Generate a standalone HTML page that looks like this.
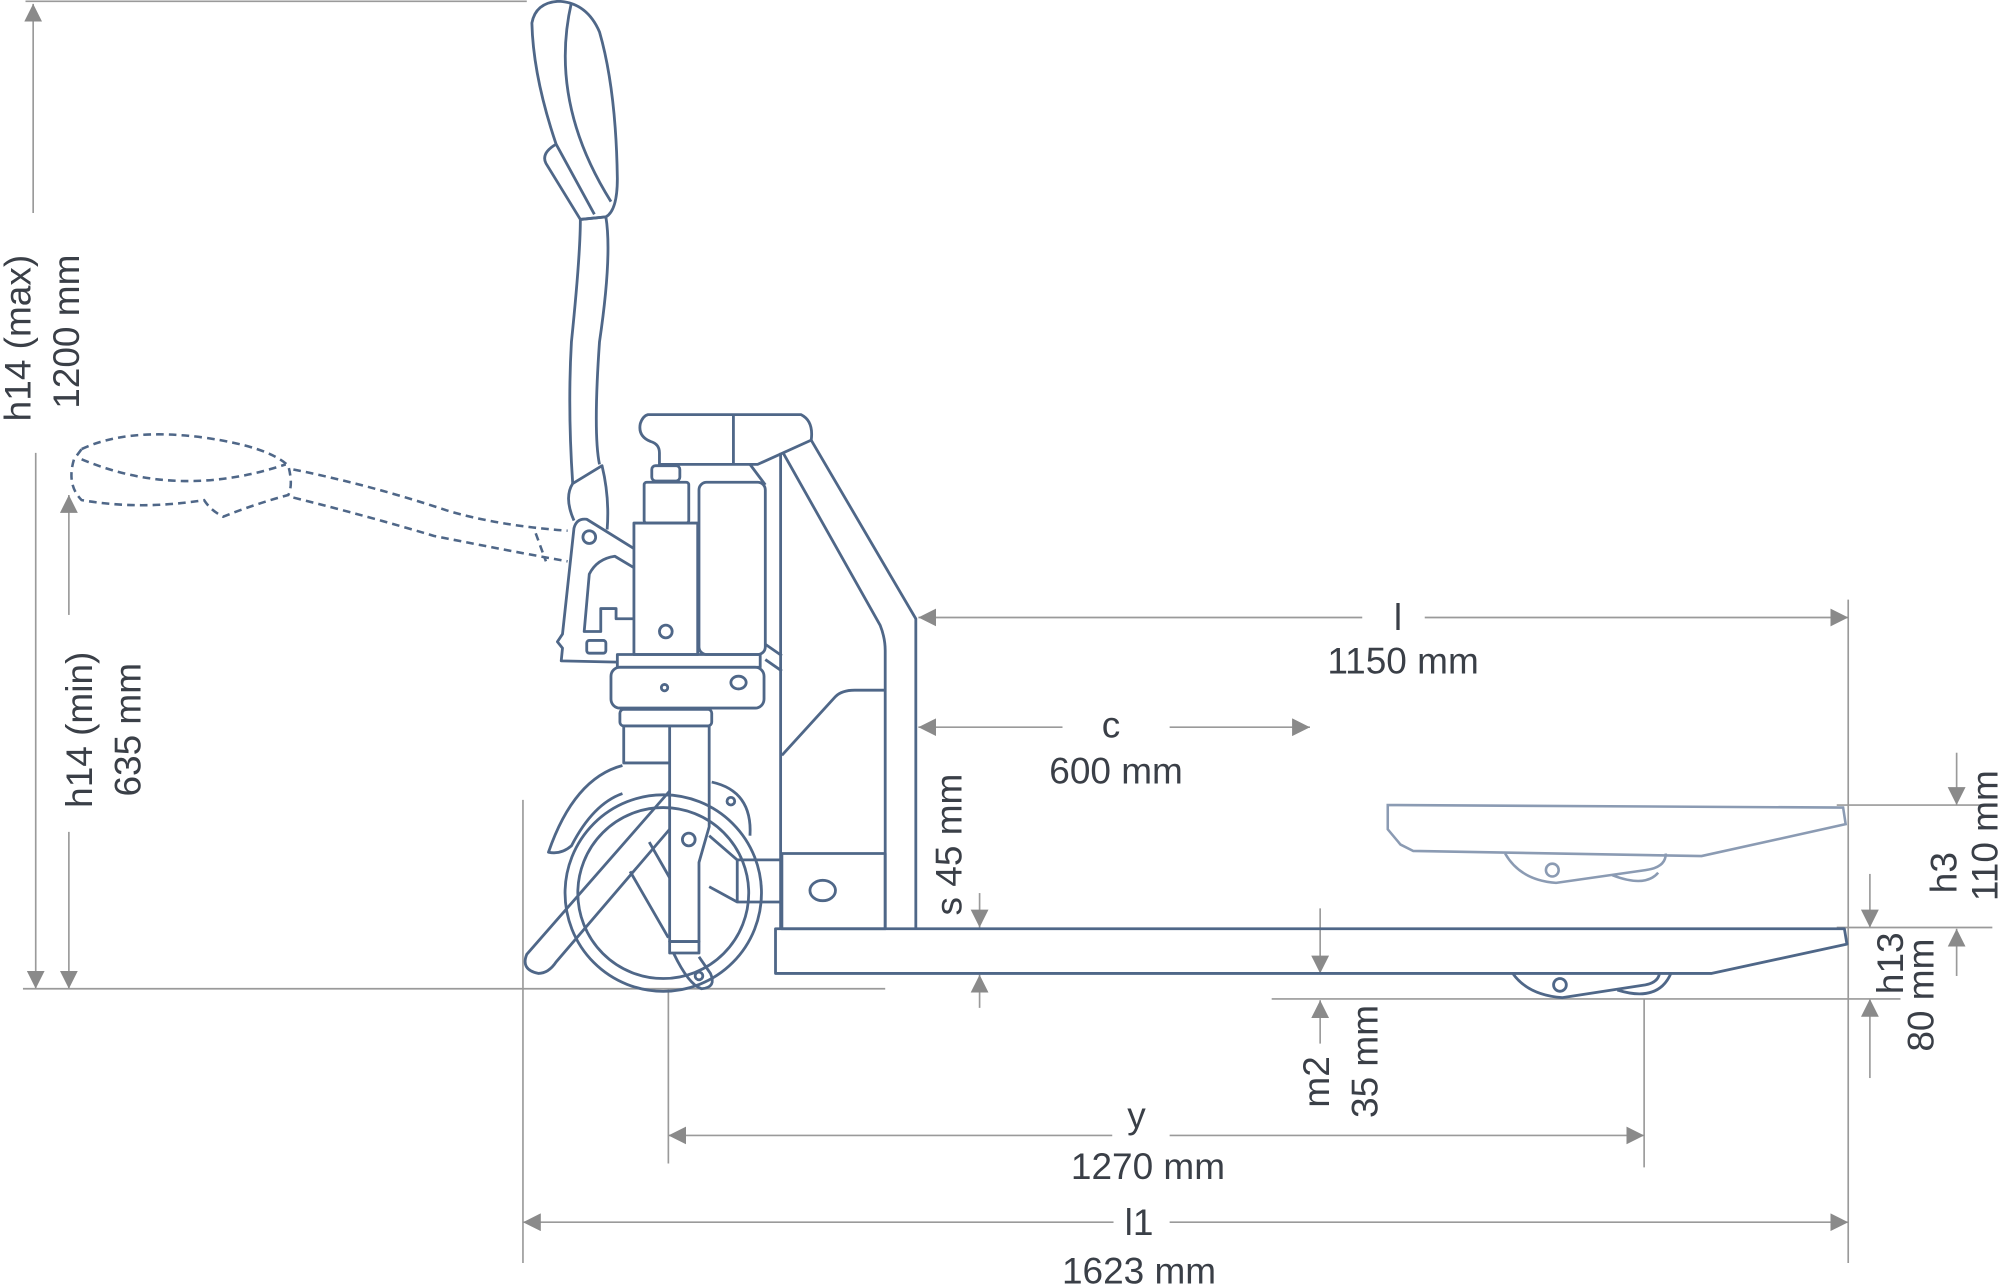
<!DOCTYPE html>
<html><head><meta charset="utf-8"><style>
html,body{margin:0;padding:0;background:#fff;}
svg{display:block;}
text{font-family:"Liberation Sans",sans-serif;fill:#3a3f47;font-size:29px;}
</style></head><body>
<svg width="2000" height="1286" viewBox="0 0 1568 1008" preserveAspectRatio="none" xmlns="http://www.w3.org/2000/svg">
<defs>
<marker id="a" viewBox="0 0 10 10" refX="10" refY="5" markerWidth="14" markerHeight="14" markerUnits="userSpaceOnUse" orient="auto-start-reverse"><path d="M0 0L10 5L0 10Z" fill="#8a8a8a"/></marker>
</defs>
<g stroke="#9a9a9a" stroke-width="1.3" fill="none">
<line x1="20" y1="1" x2="413" y2="1"/>
<line x1="18" y1="775" x2="694" y2="775"/>
<line x1="26" y1="167" x2="26" y2="3" marker-end="url(#a)"/>
<line x1="28" y1="355" x2="28" y2="775" marker-end="url(#a)"/>
<line x1="54" y1="482" x2="54" y2="388" marker-end="url(#a)"/>
<line x1="54" y1="652" x2="54" y2="775" marker-end="url(#a)"/>
<line x1="1449" y1="470" x2="1449" y2="990"/>
<line x1="1068" y1="484" x2="720" y2="484" marker-end="url(#a)"/>
<line x1="1117" y1="484" x2="1449" y2="484" marker-end="url(#a)"/>
<line x1="833" y1="570" x2="720" y2="570" marker-end="url(#a)"/>
<line x1="917" y1="570" x2="1027" y2="570" marker-end="url(#a)"/>
<line x1="768" y1="700" x2="768" y2="727" marker-end="url(#a)"/>
<line x1="768" y1="790" x2="768" y2="764" marker-end="url(#a)"/>
<line x1="1440" y1="631" x2="1560" y2="631"/>
<line x1="1440" y1="727" x2="1562" y2="727"/>
<line x1="1534" y1="590" x2="1534" y2="631" marker-end="url(#a)"/>
<line x1="1534" y1="765" x2="1534" y2="728" marker-end="url(#a)"/>
<line x1="1466" y1="685" x2="1466" y2="727" marker-end="url(#a)"/>
<line x1="1466" y1="845" x2="1466" y2="783" marker-end="url(#a)"/>
<line x1="997" y1="783" x2="1490" y2="783"/>
<line x1="1035" y1="712" x2="1035" y2="763" marker-end="url(#a)"/>
<line x1="1035" y1="818" x2="1035" y2="784" marker-end="url(#a)"/>
<line x1="524" y1="775" x2="524" y2="912"/>
<line x1="1289" y1="783" x2="1289" y2="915"/>
<line x1="872" y1="890" x2="524" y2="890" marker-end="url(#a)"/>
<line x1="917" y1="890" x2="1289" y2="890" marker-end="url(#a)"/>
<line x1="410" y1="627" x2="410" y2="990"/>
<line x1="873" y1="958" x2="410" y2="958" marker-end="url(#a)"/>
<line x1="917" y1="958" x2="1449" y2="958" marker-end="url(#a)"/>
</g>
<!-- raised fork -->
<g stroke="#8b9bb3" stroke-width="2" fill="none">
<path d="M1088 631L1445 633L1447 646L1334 671L1108 667L1098 662L1088 650Z"/>
<path d="M1180 669Q1192 690 1220 692L1290 682Q1306 680 1306 669"/>
<path d="M1264 686Q1290 696 1300 684"/>
<circle cx="1217" cy="682" r="5"/>
</g>
<!-- truck -->
<g stroke="#4f6788" stroke-width="2.2" fill="none" stroke-linejoin="round">
<path d="M608 728H1446L1448 740L1342 763H608Z"/>
<path d="M1186 763Q1198 780 1225 782L1290 772Q1300 770 1301 763"/>
<path d="M1268 776Q1300 786 1310 763"/>
<circle cx="1223" cy="772" r="5"/>
<path d="M612 355V728"/>
<path d="M636 345L718 485V728"/>
<path d="M614 355L690 490Q694 500 694 510V728"/>
<rect x="613" y="669" width="81" height="59"/>
<ellipse cx="645" cy="698" rx="10" ry="8"/>
<path d="M613 592L655 546Q660 541 670 541H694"/>
<path d="M508 325H628Q638 330 636 345L594 364H517V355Q517 348 510 346Q500 342 502 332Q504 326 508 325Z"/>
<line x1="575" y1="325" x2="575" y2="364"/>
<path d="M588 364L600 380"/>
<rect x="511" y="365" width="22" height="12" rx="3"/>
<rect x="505" y="378" width="35" height="32" rx="2"/>
<rect x="497" y="410" width="50" height="103"/>
<rect x="548" y="378" width="52" height="135" rx="6"/>
<circle cx="522" cy="495" r="5"/>
<path d="M600 505L613 514M600 517L613 526"/>
<rect x="484" y="513" width="112" height="10"/>
<rect x="479" y="523" width="120" height="32" rx="7"/>
<circle cx="521" cy="539" r="2.5"/>
<ellipse cx="579" cy="535" rx="6" ry="5"/>
<rect x="486" y="556" width="72" height="13" rx="3"/>
<path d="M489 569V598H525"/>
<path d="M525 569V738H548V676L556 648V569"/>
<circle cx="540" cy="658" r="5"/>
<path d="M556 655L578 674H613M556 695L578 707H613"/>
<path d="M578 674V707"/>
<circle cx="520" cy="700" r="77"/>
<circle cx="520" cy="700" r="67"/>
<path d="M558 613Q590 620 588 655"/>
<circle cx="573" cy="628" r="3"/>
<path d="M488 600Q450 610 430 668Q440 670 448 663Q465 630 488 622"/>
<path d="M525 620L413 748Q408 760 422 763Q430 763 436 754L525 650"/>
<path d="M494 683L524 735M509 660L525 688"/>
<rect x="525" y="738" width="23" height="9"/>
<path d="M528 747Q540 772 550 775Q562 774 557 763L548 750"/>
<circle cx="548" cy="765" r="3"/>
<path d="M497 430L460 407Q452 406 450 414L441 497L437 503L441 508L440 518L484 519"/>
<path d="M497 445L482 436Q468 438 462 450L458 495H471V477H483V485H497"/>
<circle cx="462" cy="421" r="5"/>
<rect x="460" y="502" width="15" height="10" rx="2"/>
<path d="M450 408Q442 390 449 379L472 365Q478 390 476 415"/>
<path d="M449 379Q445 320 448 268Q455 200 455 172L475 170Q480 200 470 268Q465 340 470 364"/>
<path d="M455 172L428 128Q424 120 436 113Q418 60 417 18Q420 2 438 1Q460 2 470 25Q483 70 484 140Q484 165 475 170Z"/>
<path d="M448 2Q430 80 479 158M436 113L466 168"/>
</g>
<!-- dashed lowered handle -->
<g stroke="#4f6788" stroke-width="2" fill="none" stroke-dasharray="6 4">
<path d="M64 352Q100 335 160 343Q210 350 226 365Q230 380 226 388Q200 395 175 405Q165 400 160 392Q110 400 64 392Q52 380 58 360Z"/>
<path d="M64 360Q140 392 224 364"/>
<path d="M230 368Q290 380 350 400Q390 412 445 416"/>
<path d="M230 390Q290 405 340 420Q400 432 445 440"/>
<path d="M420 418L428 440"/>
</g>
<!-- labels -->
<g>
<text transform="translate(24 265) rotate(-90)" text-anchor="middle">h14 (max)</text>
<text transform="translate(62 260) rotate(-90)" text-anchor="middle">1200 mm</text>
<text transform="translate(72 572) rotate(-90)" text-anchor="middle">h14 (min)</text>
<text transform="translate(110 572) rotate(-90)" text-anchor="middle">635  mm</text>
<text x="1096" y="494" text-anchor="middle">l</text>
<text x="1100" y="528" text-anchor="middle">1150 mm</text>
<text x="871" y="578" text-anchor="middle">c</text>
<text x="875" y="614" text-anchor="middle">600 mm</text>
<text transform="translate(754 662) rotate(-90)" text-anchor="middle">s 45 mm</text>
<text transform="translate(1534 684) rotate(-90)" text-anchor="middle">h3</text>
<text transform="translate(1566 655) rotate(-90)" text-anchor="middle">110 mm</text>
<text transform="translate(1492 755) rotate(-90)" text-anchor="middle">h13</text>
<text transform="translate(1516 780) rotate(-90)" text-anchor="middle">80 mm</text>
<text transform="translate(1042 848) rotate(-90)" text-anchor="middle">m2</text>
<text transform="translate(1080 832) rotate(-90)" text-anchor="middle">35 mm</text>
<text x="891" y="884" text-anchor="middle">y</text>
<text x="900" y="924" text-anchor="middle">1270 mm</text>
<text x="893" y="968" text-anchor="middle">l1</text>
<text x="893" y="1006" text-anchor="middle">1623 mm</text>
</g>
</svg>
</body></html>
